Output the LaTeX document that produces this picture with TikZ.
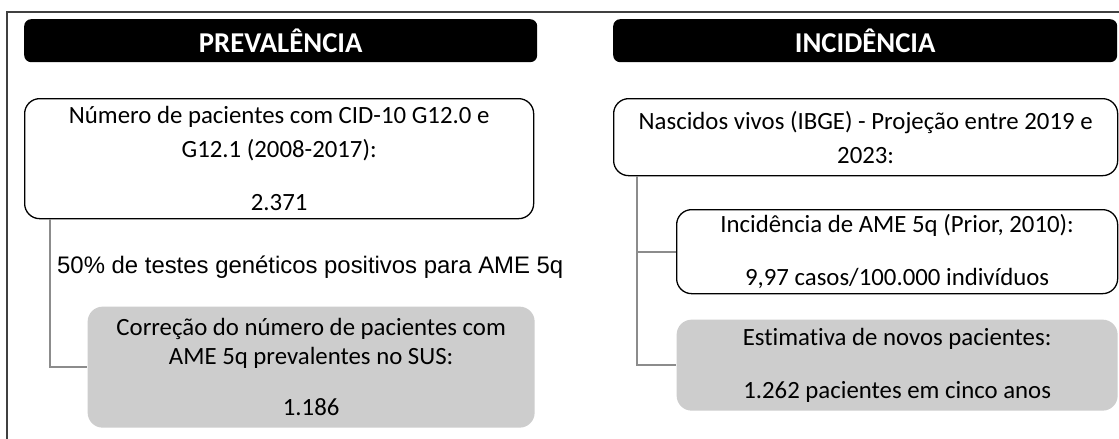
\documentclass[tikz,border=0pt]{standalone}
\usepackage{fontspec}
\setmainfont[Ligatures=NoCommon]{Carlito}
\newfontfamily\labelfont{Liberation Sans}
\definecolor{boxgrey}{RGB}{205,205,205}
\definecolor{linkgrey}{RGB}{140,140,140}
\definecolor{framegrey}{RGB}{64,64,64}

\begin{document}
\begin{tikzpicture}[x=1pt, y=-1pt,
  header/.style={fill=black, text=white, rounded corners=7pt, inner sep=0pt, anchor=north west, font=\fontsize{28.7}{30}\selectfont\bfseries},
  whitebox/.style={draw, line width=1.3pt, fill=white, rounded corners=15pt, inner sep=0pt, anchor=north west, align=center, font=\fontsize{24.8}{34}\selectfont},
  greybox/.style={whitebox, draw=none, fill=boxgrey},
  link/.style={draw=linkgrey, line width=2pt}]
\useasboundingbox (0,0) rectangle (1119,439);
% frame
\draw[framegrey, line width=2pt] (7,439) -- (7,12) -- (1119,12);
% left column
\node[header, minimum width=513pt, minimum height=43pt] (prev) at (24,19) {PREVALÊNCIA};
\node[whitebox, minimum width=509pt, minimum height=120pt] (pacientes) at (24,98) {Número de pacientes com CID-10 G12.0 e\\G12.1 (2008-2017):\\[19pt]2.371};
\node[anchor=base west, inner sep=0pt, font=\labelfont\fontsize{23.9}{26}\selectfont] (testes) at (57,273) {50\% de testes genéticos positivos para AME 5q};
\node[greybox, minimum width=447pt, minimum height=121pt, font=\fontsize{24.8}{28.5}\selectfont] (correcao) at (87,306) {Correção do número de pacientes com\\AME 5q prevalentes no SUS:\\[23pt]1.186};
% right column
\node[header, minimum width=504pt, minimum height=43pt] (inc) at (613,19) {INCIDÊNCIA};
\node[whitebox, minimum width=504pt, minimum height=77pt] (nascidos) at (613,98) {Nascidos vivos (IBGE) - Projeção entre 2019 e\\2023:};
\node[whitebox, minimum width=441pt, minimum height=84pt] (incidencia) at (676,209) {Incidência de AME 5q (Prior, 2010):\\[19pt]9,97 casos/100.000 indivíduos};
\node[greybox, minimum width=441pt, minimum height=91pt] (estimativa) at (676,319) {Estimativa de novos pacientes:\\[19pt]1.262 pacientes em cinco anos};
% connectors
\draw[link] ([xshift=26pt]pacientes.south west) |- (correcao.west);
\draw[link] ([xshift=24pt]nascidos.south west) |- (incidencia.west);
\draw[link] ([xshift=24pt]nascidos.south west) |- (estimativa.west);
\end{tikzpicture}
\end{document}
